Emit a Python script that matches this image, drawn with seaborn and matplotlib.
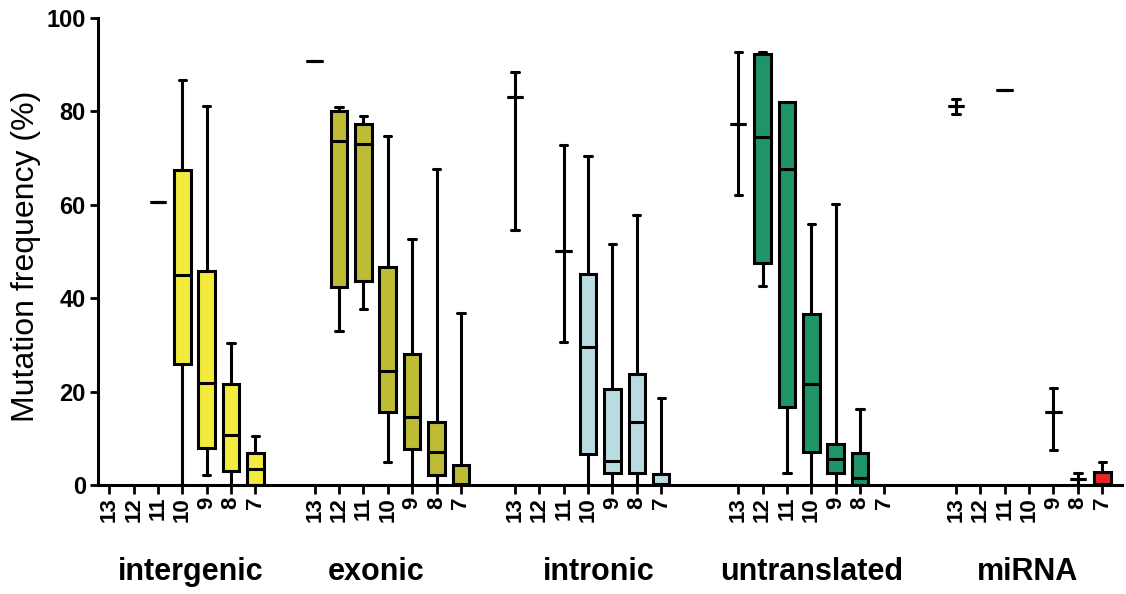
import pandas as pd
import seaborn as sns
import matplotlib.pyplot as plt
import matplotlib.transforms as mtransforms

groups = ['intergenic', 'exonic', 'intronic', 'untranslated', 'miRNA']
classes = [13, 12, 11, 10, 9, 8, 7]

# five-number summaries: (min, q1, median, q3, max), None = no data
intergenic = [None, None, (60.6, 60.6, 60.6, 60.6, 60.6), (0, 25.9, 44.9, 67.4, 86.8),
              (2.1, 7.9, 21.8, 45.9, 81.1), (0, 3.1, 10.7, 21.6, 30.4), (0, 0, 3.4, 6.8, 10.5)]
exonic = [(90.7, 90.7, 90.7, 90.7, 90.7), (33.0, 42.3, 73.6, 80.1, 80.9), (37.6, 43.6, 73.0, 77.3, 79.1),
          (5.0, 15.7, 24.5, 46.6, 74.8), (0, 7.7, 14.5, 28.0, 52.6), (0, 2.1, 7.0, 13.4, 67.7),
          (0, 0, 0.3, 4.3, 36.8)]
intronic = [(54.6, 83.0, 83.0, 83.0, 88.4), None, (30.6, 50.0, 50.0, 50.0, 72.7),
            (0, 6.6, 29.6, 45.2, 70.4), (0, 2.6, 5.2, 20.5, 51.6), (0, 2.6, 13.5, 23.7, 57.9),
            (0, 0, 0.3, 2.4, 18.7)]
untranslated = [(62.0, 77.4, 77.4, 77.4, 92.7), (42.6, 47.6, 74.6, 92.3, 92.7), (2.5, 16.6, 67.6, 82.0, 82.0),
                (0, 7.1, 21.6, 36.6, 55.9), (0, 2.5, 5.5, 8.7, 60.1), (0, 0, 1.4, 6.9, 16.3), None]
mirna = [(79.5, 81.1, 81.1, 81.1, 82.6), None, (84.5, 84.5, 84.5, 84.5, 84.5), None,
         (7.4, 15.7, 15.7, 15.7, 20.7), (0, 1.3, 1.3, 1.3, 2.6), (0, 0, 0.3, 2.8, 5.0)]

colors = {'intergenic': '#F2EA3C', 'exonic': '#BDBC34', 'intronic': '#B9DCE0',
          'untranslated': '#1E9467', 'miRNA': '#E8262A'}

# where each group starts on the x axis (groups are unevenly spaced in the original)
group_start = [0, 8.43, 16.65, 25.81, 34.75]
label_x = [3.35, 10.95, 20.07, 28.82, 37.69]

rows = []
for g, start, summaries in zip(groups, group_start, [intergenic, exonic, intronic, untranslated, mirna]):
    for i, s in enumerate(summaries):
        if s is None:
            continue
        for v in s:
            rows.append({'group': g, 'pos': start + i, 'value': v})
df = pd.DataFrame(rows)

sns.set_style('ticks')
plt.rcParams['font.family'] = ['Liberation Sans', 'DejaVu Sans']
plt.rcParams['text.color'] = 'black'
plt.rcParams['axes.labelcolor'] = 'black'
plt.rcParams['xtick.color'] = 'black'
plt.rcParams['ytick.color'] = 'black'

fig = plt.figure(figsize=(11.26, 5.94), dpi=100)
ax = fig.add_axes([0.0873, 0.1835, 0.9089, 0.7862])

sns.boxplot(data=df, x='pos', y='value', hue='group', hue_order=groups, palette=colors,
            native_scale=True, width=0.68, whis=(0, 100), saturation=1, showfliers=False,
            linecolor='black', linewidth=2.2, capwidths=0.3, legend=False, ax=ax)

tick_pos = [start + i for start in group_start for i in range(len(classes))]
ax.set_xticks(tick_pos)
ax.set_xticklabels([str(c) for c in classes] * len(groups), rotation=90, fontsize=16, fontweight='bold')
ax.set_xlim(-0.45, 41.55)
ax.set_ylim(0, 100)
ax.set_yticks([0, 20, 40, 60, 80, 100])
ax.set_yticklabels(['0', '20', '40', '60', '80', '100'], fontsize=17, fontweight='bold')
ax.tick_params(axis='x', length=6.5, width=2, pad=2)
ax.tick_params(axis='y', length=6, width=2, pad=3)
ax.set_xlabel('')
ax.set_ylabel('Mutation frequency (%)', fontsize=23)
ax.yaxis.set_label_coords(-0.056, 0.49)

sns.despine(ax=ax)
for side in ['left', 'bottom']:
    ax.spines[side].set_linewidth(2.2)
    ax.spines[side].set_color('black')

trans = mtransforms.blended_transform_factory(ax.transData, ax.transAxes)
for x, name in zip(label_x, groups):
    ax.text(x, -0.186, name, transform=trans, ha='center', va='center', fontsize=22, fontweight='bold')

fig.savefig('out.png', dpi=100)
